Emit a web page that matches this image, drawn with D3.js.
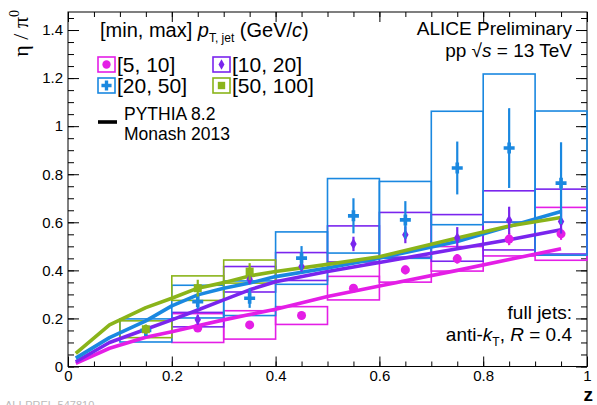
<!DOCTYPE html>
<html><head><meta charset="utf-8">
<script src="https://cdn.jsdelivr.net/npm/d3@7"></script>
<style>body{margin:0;background:#fff}svg{display:block}</style>
</head><body>
<script>
// ---- data ----
const magZ = [0.25,0.35,0.45,0.55,0.65,0.75,0.85,0.95];
const magV = [0.16,0.173,0.212,0.326,0.402,0.448,0.53,0.552];
const magStat = [0.012,0.012,0.012,0.015,0.018,0.02,0.025,0.025];
const magSys = [0.06,0.059,0.037,0.049,0.051,0.051,0.07,0.11];

const purZ = [0.25,0.35,0.45,0.55,0.65,0.75,0.85,0.95];
const purV = [0.195,0.363,0.416,0.51,0.548,0.535,0.608,0.603];
const purStat = [0.02,0.02,0.02,0.03,0.035,0.045,0.057,0.05];
const purSys = [0.03,0.053,0.058,0.075,0.093,0.097,0.123,0.135];

const bluZ = [0.15,0.25,0.35,0.45,0.55,0.65,0.75,0.85,0.95];
const bluV = [0.15,0.27,0.284,0.451,0.627,0.61,0.826,0.909,0.763];
const bluStat = [0.02,0.03,0.04,0.05,0.073,0.078,0.11,0.166,0.17];
const bluSys = [0.048,0.068,0.072,0.109,0.155,0.16,0.236,0.308,0.3];

const greZ = [0.15,0.25,0.35];
const greV = [0.155,0.326,0.395];
const greStat = [0.02,0.035,0.035];
const greSys = [0.035,0.051,0.048];

const pyZ = [0.015,0.08,0.15,0.2,0.25,0.3,0.35,0.4,0.5,0.6,0.75,0.85,0.95];
const pyMag = [0.013,0.076,0.122,0.145,0.17,0.194,0.216,0.238,0.291,0.335,0.40,0.445,0.49];
const pyPur = [0.02,0.1,0.155,0.194,0.235,0.277,0.319,0.353,0.395,0.433,0.49,0.527,0.569];
const pyBlu = [0.035,0.12,0.19,0.252,0.298,0.326,0.347,0.374,0.41,0.451,0.52,0.583,0.645];
const pyGre = [0.055,0.173,0.245,0.284,0.326,0.349,0.377,0.395,0.425,0.457,0.535,0.585,0.62];

const xMajor = [0,0.2,0.4,0.6,0.8,1];
const yMajor = [0,0.2,0.4,0.6,0.8,1,1.2,1.4];
const xLabels = ["0","0.2","0.4","0.6","0.8","1"];
const yLabels = ["0","0.2","0.4","0.6","0.8","1","1.2","1.4"];
const binHalf = 0.05;

const C = {mag:"#e41ee6", pur:"#7a25ee", blu:"#1a88e0", gre:"#8ab41a"};

// ---- chart ----
const W=597,H=405;
const svg = d3.select("body").append("svg").attr("width",W).attr("height",H)
  .style("font-family","'Liberation Sans', Arial, sans-serif");
const x = d3.scaleLinear().domain([0,1]).range([68,587]);
const y = d3.scaleLinear().domain([0,1.475]).range([366.5,12]);

const xMinor = d3.range(0,1.0001,0.05).map(v=>+v.toFixed(2));
const yMinor = d3.range(0,1.4751,0.05).map(v=>+v.toFixed(2));

function styleAxis(g){ g.select(".domain").remove(); g.selectAll("line").attr("stroke","#000"); g.attr("font-family",null).attr("font-size",15); g.selectAll("text").attr("fill","#000"); }
svg.append("g").attr("transform",`translate(0,${y(0)})`).call(d3.axisBottom(x).tickValues(xMinor).tickSize(-5).tickFormat("")).call(styleAxis);
svg.append("g").attr("transform",`translate(0,${y(0)})`).call(d3.axisBottom(x).tickValues(xMajor).tickSize(-10).tickPadding(4).tickFormat((d,i)=>xLabels[i])).call(styleAxis);
svg.append("g").attr("transform",`translate(0,${y.range()[1]})`).call(d3.axisTop(x).tickValues(xMinor).tickSize(-5).tickFormat("")).call(styleAxis);
svg.append("g").attr("transform",`translate(0,${y.range()[1]})`).call(d3.axisTop(x).tickValues(xMajor).tickSize(-10).tickFormat("")).call(styleAxis);
svg.append("g").attr("transform",`translate(${x(0)},0)`).call(d3.axisLeft(y).tickValues(yMinor).tickSize(-6).tickFormat("")).call(styleAxis);
svg.append("g").attr("transform",`translate(${x(0)},0)`).call(d3.axisLeft(y).tickValues(yMajor).tickSize(-11).tickPadding(5).tickFormat((d,i)=>yLabels[i])).call(styleAxis);
svg.append("g").attr("transform",`translate(${x(1)},0)`).call(d3.axisRight(y).tickValues(yMinor).tickSize(-6).tickFormat("")).call(styleAxis);
svg.append("g").attr("transform",`translate(${x(1)},0)`).call(d3.axisRight(y).tickValues(yMajor).tickSize(-11).tickFormat("")).call(styleAxis);
svg.append("rect").attr("x",x(0)).attr("y",y.range()[1]).attr("width",x(1)-x(0)).attr("height",y(0)-y.range()[1])
  .attr("fill","none").attr("stroke","#000").attr("stroke-width",1);

// series definitions
const series = [
  {z:magZ,v:magV,s:magStat,sys:magSys,c:C.mag,sym:d3.symbolCircle,size:64},
  {z:purZ,v:purV,s:purStat,sys:purSys,c:C.pur,sym:d3.symbolDiamond,size:36},
  {z:bluZ,v:bluV,s:bluStat,sys:bluSys,c:C.blu,sym:d3.symbolCross,size:67},
  {z:greZ,v:greV,s:greStat,sys:greSys,c:C.gre,sym:d3.symbolSquare,size:64}
];

// systematic boxes
const gBox = svg.append("g");
series.forEach(S=>{
  gBox.selectAll(null).data(S.z).enter().append("rect")
    .attr("x",d=>x(d-binHalf)).attr("width",d=>x(d+binHalf)-x(d-binHalf))
    .attr("y",(d,i)=>y(S.v[i]+S.sys[i])).attr("height",(d,i)=>y(S.v[i]-S.sys[i])-y(S.v[i]+S.sys[i]))
    .attr("fill","none").attr("stroke",S.c).attr("stroke-width",1.6);
});

// PYTHIA lines
const line = d3.line().x(d=>x(d[0])).y(d=>y(d[1]));
[[pyMag,C.mag],[pyPur,C.pur],[pyBlu,C.blu],[pyGre,C.gre]].forEach(([vals,c])=>{
  svg.append("path").datum(pyZ.map((z,i)=>[z,vals[i]])).attr("d",line)
    .attr("fill","none").attr("stroke",c).attr("stroke-width",3.6).attr("stroke-linejoin","round");
});

// points + stat errors
series.forEach(S=>{
  const g = svg.append("g");
  g.selectAll(null).data(S.z).enter().append("line")
    .attr("x1",d=>x(d)).attr("x2",d=>x(d))
    .attr("y1",(d,i)=>y(S.v[i]+S.s[i])).attr("y2",(d,i)=>y(S.v[i]-S.s[i]))
    .attr("stroke",S.c).attr("stroke-width",2.2);
  g.selectAll(null).data(S.z).enter().append("path")
    .attr("d",d3.symbol(S.sym,S.size))
    .attr("transform",(d,i)=>`translate(${x(d)},${y(S.v[i])})`)
    .attr("fill",S.c);
});

// axis titles
svg.append("text").attr("transform","translate(28,10) rotate(-90)").attr("text-anchor","end")
  .attr("font-family","'Liberation Serif', 'DejaVu Serif', serif").attr("font-size",22)
  .html('η / π<tspan font-size="14" dy="-9">0</tspan>');
svg.append("text").attr("x",593).attr("y",401).attr("text-anchor","end")
  .attr("font-size",19).attr("font-weight","bold").text("z");

// legend
const lg = svg.append("g").attr("font-size",20);
lg.append("text").attr("x",100).attr("y",37)
  .html('[min, max] <tspan font-style="italic">p</tspan><tspan font-size="12" dy="5">T, jet</tspan><tspan dy="-5"> (GeV/</tspan><tspan font-style="italic">c</tspan>)');
const legItems = [
  {s:series[0],t:"[5, 10]",bx:98,by:57},
  {s:series[1],t:"[10, 20]",bx:213,by:57},
  {s:series[2],t:"[20, 50]",bx:98,by:78},
  {s:series[3],t:"[50, 100]",bx:213,by:78}
];
legItems.forEach(L=>{
  lg.append("rect").attr("x",L.bx).attr("y",L.by).attr("width",17).attr("height",15)
    .attr("fill","none").attr("stroke",L.s.c).attr("stroke-width",1.6);
  lg.append("path").attr("d",d3.symbol(L.s.sym,L.s.size*0.85))
    .attr("transform",`translate(${L.bx+8.5},${L.by+7.5})`).attr("fill",L.s.c);
  lg.append("text").attr("x",L.bx+19).attr("y",L.by+15).attr("font-size",21).text(L.t);
});
lg.append("line").attr("x1",98).attr("x2",117).attr("y1",122).attr("y2",122).attr("stroke","#000").attr("stroke-width",3.6);
lg.append("text").attr("x",124).attr("y",119.5).attr("font-size",17.5).text("PYTHIA 8.2");
lg.append("text").attr("x",124).attr("y",139.5).attr("font-size",17.5).text("Monash 2013");

// annotations
const an = svg.append("g").attr("font-size",19).attr("text-anchor","end");
an.append("text").attr("x",572).attr("y",35).text("ALICE Preliminary");
an.append("text").attr("x",572).attr("y",57)
  .html('pp  √<tspan font-style="italic">s</tspan> = 13 TeV');
an.append("text").attr("x",572).attr("y",319).text("full jets:");
an.append("text").attr("x",572).attr("y",341)
  .html('anti-<tspan font-style="italic">k</tspan><tspan font-size="12" dy="5">T</tspan><tspan dy="-5">, </tspan><tspan font-style="italic">R</tspan> = 0.4');

svg.append("text").attr("x",5).attr("y",409).attr("font-size",11).attr("fill","#bbb").text("ALI-PREL-547810");
</script>
</body></html>
